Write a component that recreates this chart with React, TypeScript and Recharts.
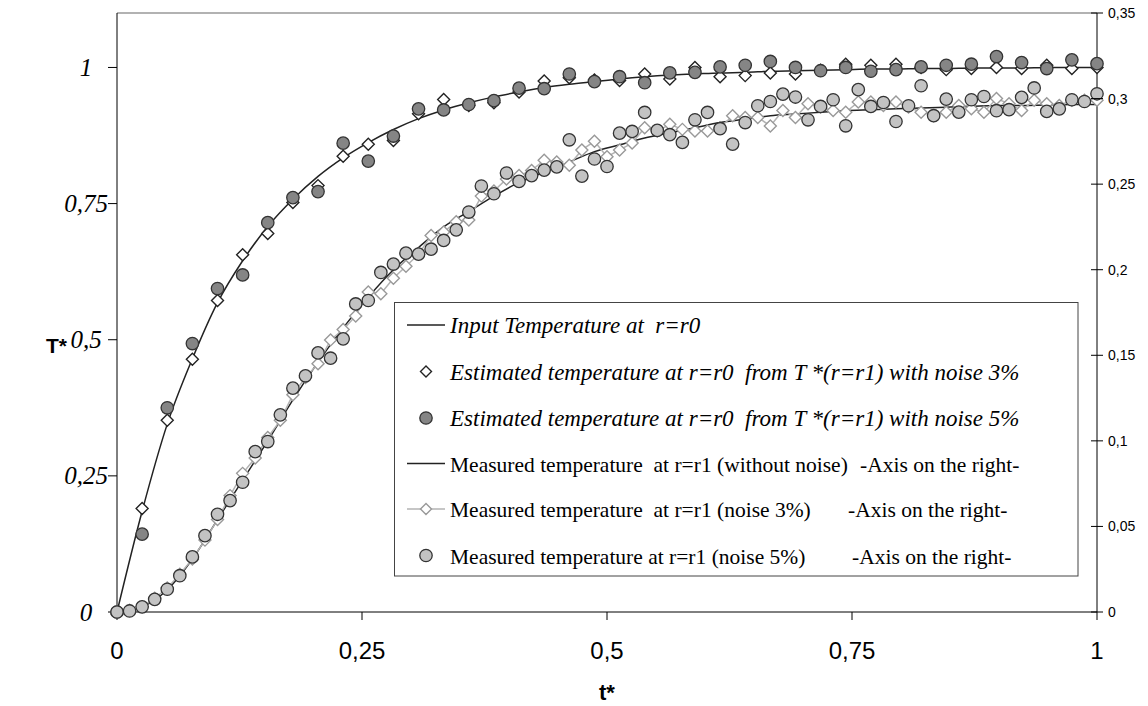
import React from 'react'
import { ComposedChart, Line, XAxis, YAxis, ReferenceLine, Label } from 'recharts'

// estimated curves, 40 samples on t = i/39 (left axis)
const inputLine = [
  0, 0.185, 0.345, 0.465, 0.568, 0.645, 0.708, 0.758, 0.8, 0.834,
  0.862, 0.886, 0.906, 0.922, 0.935, 0.946, 0.955, 0.963, 0.969, 0.974,
  0.979, 0.983, 0.986, 0.988, 0.99, 0.991, 0.993, 0.994, 0.995, 0.996,
  0.997, 0.997, 0.998, 0.998, 0.999, 0.999, 0.999, 1.0, 1.0, 1.0,
]
const est3 = [
  0, 0.19, 0.352, 0.464, 0.572, 0.656, 0.695, 0.752, 0.783, 0.837,
  0.859, 0.866, 0.915, 0.941, 0.93, 0.935, 0.955, 0.975, 0.981, 0.977,
  0.976, 0.988, 0.979, 1.0, 0.983, 0.985, 0.99, 0.988, 0.995, 1.006,
  1.004, 1.006, 1.0, 0.996, 0.998, 1.0, 0.998, 1.004, 0.998, 1.0,
]
const est5 = [
  0, 0.143, 0.375, 0.493, 0.594, 0.619, 0.715, 0.761, 0.772, 0.861,
  0.828, 0.874, 0.924, 0.922, 0.932, 0.939, 0.962, 0.961, 0.988, 0.974,
  0.983, 0.972, 0.99, 0.991, 1.001, 1.004, 1.011, 1.0, 0.994, 1.0,
  0.993, 0.996, 1.001, 1.004, 1.006, 1.02, 1.009, 0.998, 1.014, 1.007,
]

// measured curves at r=r1 (right axis)
// noise-free line: 40 samples on t = i/39
const measLine = [
  0, 0.003, 0.013, 0.031, 0.054, 0.077, 0.1, 0.124, 0.146, 0.166,
  0.184, 0.2, 0.213, 0.225, 0.234, 0.243, 0.251, 0.257, 0.263, 0.269,
  0.273, 0.277, 0.28, 0.283, 0.286, 0.288, 0.29, 0.291, 0.292, 0.293,
  0.2935, 0.294, 0.2945, 0.295, 0.2955, 0.296, 0.296, 0.2963, 0.2965, 0.2965,
]
// noisy samples: 79 samples on t = j/78
const meas3 = [
  0, 0.001, 0.003, 0.008, 0.014, 0.022, 0.031, 0.042, 0.054, 0.068,
  0.081, 0.09, 0.102, 0.112, 0.127, 0.137, 0.145, 0.159, 0.165, 0.173,
  0.187, 0.186, 0.195, 0.202, 0.209, 0.22, 0.222, 0.228, 0.229, 0.243,
  0.246, 0.253, 0.255, 0.258, 0.264, 0.263, 0.261, 0.27, 0.275, 0.266,
  0.27, 0.274, 0.283, 0.281, 0.285, 0.282, 0.281, 0.281, 0.283, 0.29,
  0.289, 0.289, 0.284, 0.293, 0.289, 0.297, 0.295, 0.293, 0.292, 0.298,
  0.298, 0.296, 0.298, 0.295, 0.292, 0.29, 0.292, 0.296, 0.294, 0.292,
  0.3, 0.297, 0.293, 0.299, 0.297, 0.296, 0.299, 0.299, 0.299,
]
const meas5 = [
  0, 0.0006, 0.003, 0.0074, 0.0133, 0.0212, 0.0322, 0.0446, 0.0571, 0.0651,
  0.0758, 0.0937, 0.0996, 0.1152, 0.1308, 0.138, 0.1514, 0.1483, 0.1596, 0.18,
  0.182, 0.1984, 0.2033, 0.2097, 0.2091, 0.212, 0.2171, 0.2233, 0.2337, 0.2489,
  0.2444, 0.2565, 0.2516, 0.255, 0.2582, 0.2601, 0.2759, 0.2547, 0.2647, 0.2603,
  0.2798, 0.2808, 0.2919, 0.2814, 0.2789, 0.2744, 0.2876, 0.2919, 0.2824, 0.2734,
  0.286, 0.2958, 0.2983, 0.3026, 0.3009, 0.2876, 0.2954, 0.2993, 0.2841, 0.3052,
  0.2954, 0.2977, 0.2866, 0.2958, 0.3075, 0.29, 0.2997, 0.2921, 0.2993, 0.3012,
  0.2929, 0.2935, 0.3007, 0.3062, 0.2925, 0.294, 0.2993, 0.2983, 0.3028,
]

const xTicks = [0, 0.25, 0.5, 0.75, 1]
const leftTicks = [0, 0.25, 0.5, 0.75, 1]
const rightTicks = [0, 0.05, 0.1, 0.15, 0.2, 0.25, 0.3, 0.35]

const legendLabels = [
  'Input Temperature at  r=r0',
  'Estimated temperature at r=r0  from T *(r=r1) with noise 3%',
  'Estimated temperature at r=r0  from T *(r=r1) with noise 5%',
  'Measured temperature  at r=r1 (without noise)',
  'Measured temperature  at r=r1 (noise 3%)',
  'Measured temperature at r=r1 (noise 5%)',
]
const axisNote = '-Axis on the right-'

// the fine grid holds the coarse one on its even rows
const rows = meas5.map((v, j) => {
  const row: any = { t: j / 78, meas3: meas3[j], meas5: v }
  if (j % 2 === 0) {
    const i = j / 2
    row.input = inputLine[i]
    row.est3 = est3[i]
    row.est5 = est5[i]
    row.measLine = measLine[i]
  }
  return row
})

const SANS = 'Liberation Sans, Arial, sans-serif'
const SERIF = 'Liberation Serif, Times New Roman, serif'
const comma = (v: number) => String(v).replace('.', ',')

const diamond = (cx: number, cy: number, r: number) =>
  `M${cx},${cy - r}L${cx + r},${cy}L${cx},${cy + r}L${cx - r},${cy}Z`

const makeDiamond = (stroke: string) => (p: any) => {
  if (p.cy == null || isNaN(p.cy)) return <g key={p.index} />
  return <path key={p.index} d={diamond(p.cx, p.cy, 6)} fill="#fff" stroke={stroke} strokeWidth={1.4} />
}
const makeCircle = (fill: string) => (p: any) => {
  if (p.cy == null || isNaN(p.cy)) return <g key={p.index} />
  return <circle key={p.index} cx={p.cx} cy={p.cy} r={6.2} fill={fill} stroke="#333" strokeWidth={1.3} />
}

const XTick = ({ x, y, payload }: any) => (
  <text x={x} y={y} dy={37} textAnchor="middle" fontFamily={SANS} fontSize={24} fill="#000">
    {comma(payload.value)}
  </text>
)
const LeftTick = ({ x, y, payload }: any) => (
  <text x={x - 20} y={y} dy={8.5} textAnchor="middle" fontFamily={SERIF} fontStyle="italic" fontSize={25} fill="#000">
    {comma(payload.value)}
  </text>
)
const RightTick = ({ x, y, payload }: any) => (
  <g>
    <line x1={x - 6} x2={x + 6} y1={y} y2={y} stroke="#000" strokeWidth={1} />
    <text x={x + 11} y={y} dy={5} textAnchor="start" fontFamily={SANS} fontSize={14} fill="#000">
      {comma(payload.value)}
    </text>
  </g>
)

function LegendBox() {
  const rowY = [23, 69.5, 116, 161.5, 207, 253.5]
  const noteStart = [0, 0, 0, 466, 454, 458]
  return (
    <svg width={686} height={276} style={{ position: 'absolute', left: 394, top: 302 }}>
      <rect x={0.5} y={0.5} width={683.5} height={273.5} fill="#fff" stroke="#444" strokeWidth={1} />
      <line x1={13} x2={51} y1={rowY[0]} y2={rowY[0]} stroke="#222" strokeWidth={1.5} />
      <path d={diamond(32, rowY[1], 5.5)} fill="#fff" stroke="#222" strokeWidth={1.4} />
      <circle cx={32} cy={rowY[2]} r={6.2} fill="#858585" stroke="#333" strokeWidth={1.3} />
      <line x1={13} x2={51} y1={rowY[3]} y2={rowY[3]} stroke="#222" strokeWidth={1.5} />
      <line x1={13} x2={51} y1={rowY[4]} y2={rowY[4]} stroke="#b3b3b3" strokeWidth={1.5} />
      <path d={diamond(32, rowY[4], 5.5)} fill="#fff" stroke="#999" strokeWidth={1.4} />
      <circle cx={32} cy={rowY[5]} r={6.2} fill="#c3c3c3" stroke="#333" strokeWidth={1.3} />
      {legendLabels.map((s, k) => (
        <text
          key={k}
          x={56}
          y={rowY[k] + 8}
          fontFamily={SERIF}
          fontSize={k < 3 ? 23 : 21.5}
          fontStyle={k < 3 ? 'italic' : 'normal'}
          fill="#000"
          style={{ whiteSpace: 'pre' }}
        >
          {s}
        </text>
      ))}
      {[3, 4, 5].map((k) => (
        <text key={'n' + k} x={noteStart[k]} y={rowY[k] + 8} fontFamily={SERIF} fontSize={21.5} fill="#000">
          {axisNote}
        </text>
      ))}
    </svg>
  )
}

export default function App() {
  return (
    <div style={{ position: 'absolute', left: 0, top: 0, width: 1148, height: 706, background: '#fff' }}>
      <ComposedChart width={1148} height={706} data={rows} margin={{ top: 13, right: 0, bottom: 0, left: 0 }}>
        <XAxis
          type="number"
          dataKey="t"
          domain={[0, 1]}
          ticks={xTicks}
          height={94}
          tickSize={8}
          tick={XTick}
          axisLine={{ stroke: '#000' }}
          tickLine={{ stroke: '#000' }}
        >
          <Label value="t*" position="insideBottom" offset={6} fontFamily={SANS} fontSize={22} fontWeight="bold" fill="#000" />
        </XAxis>
        <YAxis
          yAxisId="left"
          domain={[0, 1.1]}
          ticks={leftTicks}
          width={117}
          tickSize={9}
          tick={LeftTick}
          axisLine={{ stroke: '#000' }}
          tickLine={{ stroke: '#000' }}
        >
          <Label value="T*" position="insideLeft" offset={46} dy={33} fontFamily={SANS} fontSize={21} fontWeight="bold" fill="#000" />
        </YAxis>
        <YAxis
          yAxisId="right"
          orientation="right"
          domain={[0, 0.35]}
          ticks={rightTicks}
          width={51}
          tickSize={0}
          tickMargin={0}
          tick={RightTick}
          axisLine={{ stroke: '#000' }}
          tickLine={false}
        />
        <ReferenceLine yAxisId="left" y={1.1} stroke="#999" strokeWidth={1.5} />

        <Line yAxisId="left" dataKey="input" type="monotone" stroke="#222" strokeWidth={1.5} dot={false} connectNulls isAnimationActive={false} />
        <Line yAxisId="left" dataKey="est3" stroke="none" dot={makeDiamond('#222')} activeDot={false} connectNulls isAnimationActive={false} />
        <Line yAxisId="left" dataKey="est5" stroke="none" dot={makeCircle('#858585')} activeDot={false} connectNulls isAnimationActive={false} />
        <Line yAxisId="right" dataKey="measLine" type="monotone" stroke="#222" strokeWidth={1.5} dot={false} connectNulls isAnimationActive={false} />
        <Line yAxisId="right" dataKey="meas3" type="linear" stroke="#b3b3b3" strokeWidth={1.5} dot={makeDiamond('#999')} activeDot={false} isAnimationActive={false} />
        <Line yAxisId="right" dataKey="meas5" stroke="none" dot={makeCircle('#c3c3c3')} activeDot={false} isAnimationActive={false} />
      </ComposedChart>
      <LegendBox />
    </div>
  )
}
